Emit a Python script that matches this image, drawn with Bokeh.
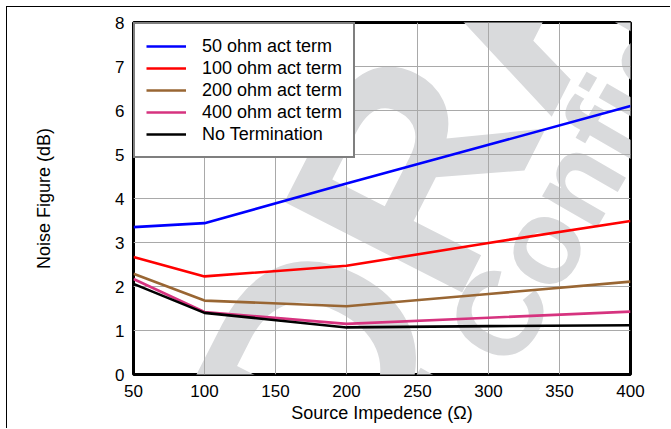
from bokeh.plotting import figure
from bokeh.models import Label, Legend, LegendItem
from bokeh.embed import file_html
from bokeh.resources import INLINE

# ---- data ----
source_impedance = [50, 100, 200, 300, 400]
nf_50_ohm = [3.35, 3.44, 4.34, 5.22, 6.10]
nf_100_ohm = [2.67, 2.23, 2.47, 2.99, 3.49]
nf_200_ohm = [2.29, 1.68, 1.55, 1.83, 2.11]
nf_400_ohm = [2.17, 1.42, 1.15, 1.29, 1.43]
nf_no_term = [2.06, 1.40, 1.07, 1.10, 1.12]

series_names = ["50 ohm act term", "100 ohm act term", "200 ohm act term",
                "400 ohm act term", "No Termination"]
series_colors = ["#0000ff", "#ff0000", "#996633", "#d6337f", "#000000"]
x_ticks = [50, 100, 150, 200, 250, 300, 350, 400]
y_ticks = [0, 1, 2, 3, 4, 5, 6, 7, 8]

FONT = "Liberation Sans"

p = figure(width=664, height=422, x_range=(50, 400), y_range=(0, 8),
           output_backend="svg", toolbar_location=None,
           min_border_left=126, min_border_top=15,
           min_border_right=41, min_border_bottom=55)
p.styles = {"margin-left": "6px", "margin-top": "6px",
            "border-top": "1px solid black", "border-left": "1px solid black"}

p.outline_line_color = "black"
p.outline_line_width = 3
p.background_fill_color = "white"
p.border_fill_color = "white"

# watermark
p.add_layout(Label(x=302, y=8.22, text="DRAFT", angle=63, angle_units="deg",
                   text_font=FONT, text_font_size="290px", text_font_style="bold",
                   text_color="#d9dadc", text_align="center", text_baseline="middle",
                   level="image"))
p.add_layout(Label(x=389, y=5.95, text="TI Confidential", angle=60, angle_units="deg",
                   text_font=FONT, text_font_size="120px", text_font_style="bold",
                   text_color="#d9dadc", text_align="center", text_baseline="middle",
                   level="image"))

# axes
for ax in (p.xaxis, p.yaxis):
    ax.axis_line_color = None
    ax.major_tick_line_color = None
    ax.minor_tick_line_color = None
    ax.major_tick_out = 0
    ax.major_tick_in = 0
    ax.major_label_text_font = FONT
    ax.major_label_text_font_size = "17px"
    ax.major_label_text_color = "black"
    ax.axis_label_text_font = FONT
    ax.axis_label_text_font_size = "18px"
    ax.axis_label_text_font_style = "normal"
    ax.axis_label_text_color = "black"
p.xaxis.ticker = x_ticks
p.yaxis.ticker = y_ticks
p.xaxis.major_label_standoff = 10
p.yaxis.major_label_standoff = 9
p.yaxis.axis_label = "Noise Figure (dB)"
p.yaxis.axis_label_standoff = 58
p.xaxis.axis_label = "Source Impedence (\u03a9)"
p.xaxis.axis_label_standoff = 3

p.xgrid.grid_line_color = "#a9a9a9"
p.ygrid.grid_line_color = "#a9a9a9"
p.xgrid.grid_line_width = 1
p.ygrid.grid_line_width = 1

series = [nf_50_ohm, nf_100_ohm, nf_200_ohm, nf_400_ohm, nf_no_term]
items = []
for name, color, ys in zip(series_names, series_colors, series):
    r = p.line(source_impedance, ys, line_color=color, line_width=2.6)
    items.append(LegendItem(label=name, renderers=[r]))

legend = Legend(items=items, location="top_left", margin=0, padding=11,
                spacing=0, label_height=22, glyph_height=22, glyph_width=40,
                label_standoff=16, border_line_color="black", border_line_width=2,
                background_fill_color="white", background_fill_alpha=1.0,
                label_text_font=FONT, label_text_font_size="18px",
                label_text_color="black")
p.add_layout(legend)

open("out.html", "w").write(file_html(p, INLINE))
